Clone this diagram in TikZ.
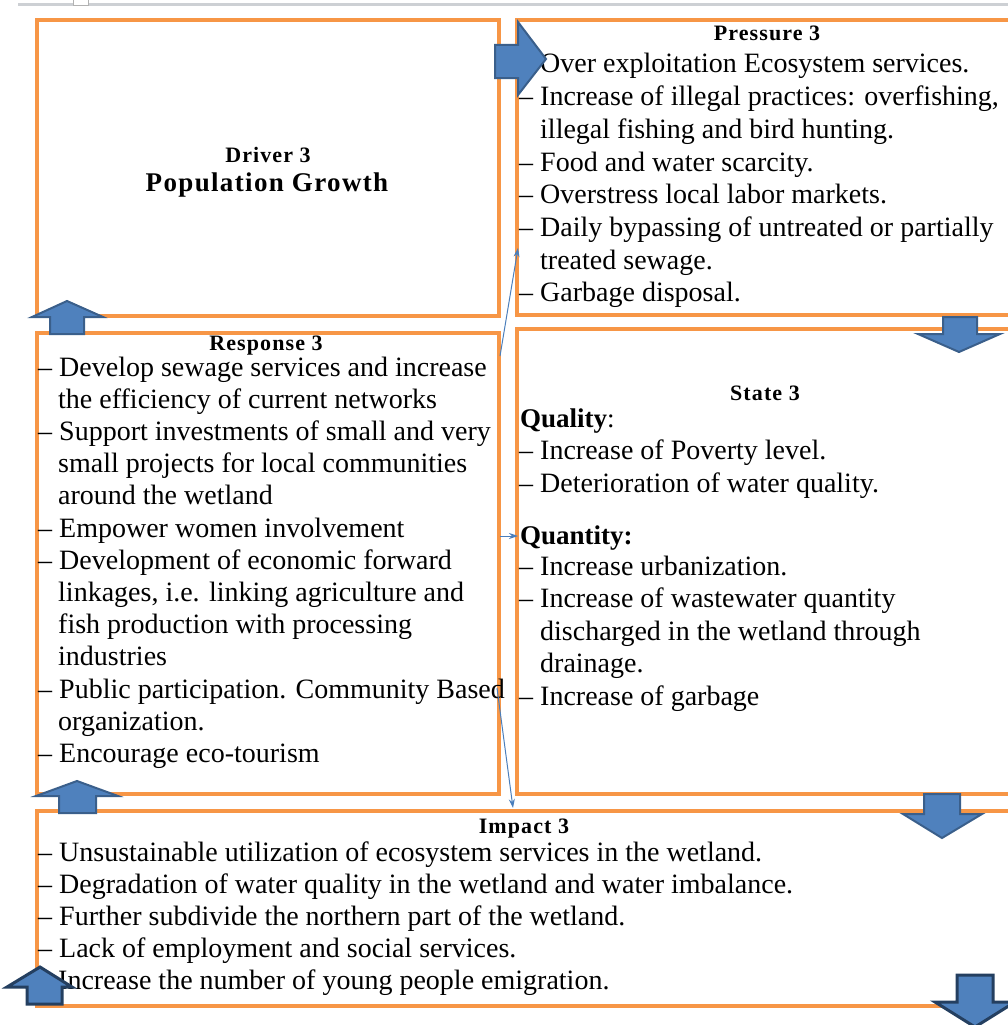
\documentclass[tikz,border=0pt]{standalone}
\usepackage{fontspec}
\setmainfont{Liberation Serif}
\newfontfamily\headfont[LetterSpace=5]{Liberation Serif}
\usetikzlibrary{arrows.meta,calc}
\definecolor{boxorange}{HTML}{F79646}
\definecolor{arrfill}{HTML}{4F81BD}
\definecolor{arrline}{HTML}{3A5F8B}
\definecolor{arrdark}{HTML}{243F60}
\definecolor{thinblue}{HTML}{4A7EBB}
\definecolor{topgray}{HTML}{CDD0D4}
\begin{document}
\begin{tikzpicture}[x=1pt,y=-1pt,
 box/.style={draw=boxorange, line width=4pt, rectangle, inner sep=0pt, outer sep=0pt, anchor=north west},
 txt/.style={anchor=base west, inner sep=0pt, font=\fontsize{28}{32}\selectfont},
 hd/.style={anchor=base, inner sep=0pt, font=\headfont\bfseries\fontsize{22}{26}\selectfont},
 sub/.style={anchor=base west, inner sep=0pt, font=\bfseries\fontsize{27}{32}\selectfont},
 blockarrow/.style={fill=arrfill, draw=arrline, line width=2pt, line join=miter},
 darkarrow/.style={fill=arrfill, draw=arrdark, line width=3pt, line join=miter},
 thin/.style={draw=thinblue, line width=1pt, -{Stealth[length=9pt,width=6pt]}}
]
\useasboundingbox (0,0) rectangle (1008,1025);
\clip (0,0) rectangle (1008,1025);
% top gray rule
\draw[topgray, line width=3pt] (18,5) -- (1008,5);
\draw[gray!60, fill=white, line width=0.8pt] (73,-2) rectangle (88,5);
% boxes
\node[box, minimum width=462, minimum height=296] (driver) at (37,20) {};
\node[box, minimum width=500, minimum height=295] (pressure) at (517,20) {};
\node[box, minimum width=462, minimum height=461] (response) at (37,333) {};
\node[box, minimum width=500, minimum height=465] (state) at (517,329) {};
\node[box, minimum width=980, minimum height=195] (impact) at (37,811) {};
% Driver
\node[hd] (drvh) at (268,162) {Driver 3};
\node[hd, font=\headfont\bfseries\fontsize{27}{32}\selectfont] (drvp) at (267,191) {Population Growth};
% Pressure
\node[hd] (presh) at (767,41) {Pressure 3};
\foreach \x/\t [count=\i] in {540/{Over exploitation Ecosystem services.},
  519/{– Increase of illegal practices: overfishing,},
  540/{illegal fishing and bird hunting.},
  519/{– Food and water scarcity.},
  519/{– Overstress local labor markets.},
  519/{– Daily bypassing of untreated or partially},
  540/{treated sewage.},
  519/{– Garbage disposal.}}
  \node[txt] (pl\i) at (\x,{73+32.7*(\i-1)}) {\t};
% Response
\node[hd] (resh) at (266,350) {Response 3};
\foreach \x/\t [count=\i] in {38/{– Develop sewage services and increase},
  58/{the efficiency of current networks},
  38/{– Support investments of small and very},
  58/{small projects for local communities},
  58/{around the wetland},
  38/{– Empower women involvement},
  38/{– Development of economic forward},
  58/{linkages, i.e. linking agriculture and},
  58/{fish production with processing},
  58/{industries},
  38/{– Public participation. Community Based},
  58/{organization.},
  38/{– Encourage eco-tourism}}
  \node[txt] (rl\i) at (\x,{376+32.2*(\i-1)}) {\t};
% State
\node[hd] (sth) at (765,400) {State 3};
\node[sub] (qual) at (520,427) {Quality\textmd{:}};
\node[txt] (sq1) at (519,459) {– Increase of Poverty level.};
\node[txt] (sq2) at (519,492) {– Deterioration of water quality.};
\node[sub] (quan) at (520,544) {Quantity:};
\foreach \x/\t [count=\i] in {519/{– Increase urbanization.},
  519/{– Increase of wastewater quantity},
  540/{discharged in the wetland through},
  540/{drainage.},
  519/{– Increase of garbage}}
  \node[txt] (sl\i) at (\x,{575+32.5*(\i-1)}) {\t};
% Impact
\node[hd] (imph) at (524,833) {Impact 3};
\foreach \x/\t [count=\i] in {38/{– Unsustainable utilization of ecosystem services in the wetland.},
  38/{– Degradation of water quality in the wetland and water imbalance.},
  38/{– Further subdivide the northern part of the wetland.},
  38/{– Lack of employment and social services.},
  58/{Increase the number of young people emigration.}}
  \node[txt] (il\i) at (\x,{861+32.2*(\i-1)}) {\t};
% thin connectors
\coordinate (c1s) at (500,356); \coordinate (c1e) at (518,248);
\coordinate (c2s) at (500,536); \coordinate (c2e) at (518,536);
\coordinate (c3s) at (497,688); \coordinate (c3e) at (513,808);
\draw[thin] (c1s) -- (c1e);
\draw[thin] (c2s) -- (c2e);
\draw[thin] (c3s) -- (c3e);
% block arrows
\draw[blockarrow] (495,45) -- (518,45) -- (518,22) -- (546,59) -- (518,95) -- (518,78) -- (495,78) -- cycle;
\draw[blockarrow] (50,334) -- (50,317) -- (32,317) -- (67,301) -- (103,317) -- (84,317) -- (84,334) -- cycle;
\draw[blockarrow] (943,317) -- (977,317) -- (977,334) -- (1000,334) -- (959,352) -- (918,334) -- (943,334) -- cycle;
\draw[blockarrow] (59,813) -- (59,796) -- (36,796) -- (77,781) -- (118,796) -- (96,796) -- (96,813) -- cycle;
\draw[blockarrow] (924,794) -- (960,794) -- (960,814) -- (982,814) -- (942,838) -- (903,814) -- (924,814) -- cycle;
\draw[darkarrow] (27,1004) -- (27,987) -- (7,987) -- (40,967) -- (72,987) -- (62,987) -- (62,1004) -- cycle;
\draw[darkarrow] (957,975) -- (993,975) -- (993,1002) -- (1015,1002) -- (975,1027) -- (935,1002) -- (957,1002) -- cycle;
\end{tikzpicture}
\end{document}
